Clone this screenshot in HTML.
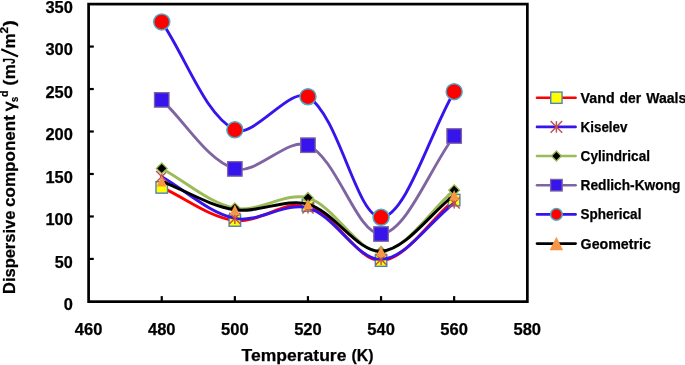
<!DOCTYPE html>
<html><head><meta charset="utf-8"><title>chart</title>
<style>
html,body{margin:0;padding:0;background:#fff;}
body{width:685px;height:365px;overflow:hidden;}
svg{display:block;will-change:transform;}
text{font-family:"Liberation Sans",sans-serif;font-weight:bold;fill:#000;stroke:#000;stroke-width:0.25px;}
</style></head><body>
<svg width="685" height="365" viewBox="0 0 685 365">
<rect x="0" y="0" width="685" height="365" fill="#ffffff"/>

<rect x="88.60" y="4.10" width="438.75" height="297.55" fill="none" stroke="#000" stroke-width="2.7"/>
<line x1="88.60" y1="258.93" x2="93.80" y2="258.93" stroke="#000" stroke-width="2.2"/>
<line x1="88.60" y1="216.46" x2="93.80" y2="216.46" stroke="#000" stroke-width="2.2"/>
<line x1="88.60" y1="173.99" x2="93.80" y2="173.99" stroke="#000" stroke-width="2.2"/>
<line x1="88.60" y1="131.51" x2="93.80" y2="131.51" stroke="#000" stroke-width="2.2"/>
<line x1="88.60" y1="89.04" x2="93.80" y2="89.04" stroke="#000" stroke-width="2.2"/>
<line x1="88.60" y1="46.57" x2="93.80" y2="46.57" stroke="#000" stroke-width="2.2"/>
<line x1="161.75" y1="301.40" x2="161.75" y2="296.10" stroke="#000" stroke-width="2.2"/>
<line x1="234.85" y1="301.40" x2="234.85" y2="296.10" stroke="#000" stroke-width="2.2"/>
<line x1="307.95" y1="301.40" x2="307.95" y2="296.10" stroke="#000" stroke-width="2.2"/>
<line x1="381.05" y1="301.40" x2="381.05" y2="296.10" stroke="#000" stroke-width="2.2"/>
<line x1="454.15" y1="301.40" x2="454.15" y2="296.10" stroke="#000" stroke-width="2.2"/>
<text x="63.70" y="310.25" font-size="16.1" textLength="9.1" lengthAdjust="spacingAndGlyphs">0</text>
<text x="54.80" y="267.78" font-size="16.1" textLength="18.0" lengthAdjust="spacingAndGlyphs">50</text>
<text x="45.40" y="225.31" font-size="16.1" textLength="27.4" lengthAdjust="spacingAndGlyphs">100</text>
<text x="45.40" y="182.84" font-size="16.1" textLength="27.4" lengthAdjust="spacingAndGlyphs">150</text>
<text x="45.40" y="140.36" font-size="16.1" textLength="27.4" lengthAdjust="spacingAndGlyphs">200</text>
<text x="45.40" y="97.89" font-size="16.1" textLength="27.4" lengthAdjust="spacingAndGlyphs">250</text>
<text x="45.40" y="55.42" font-size="16.1" textLength="27.4" lengthAdjust="spacingAndGlyphs">300</text>
<text x="45.40" y="12.95" font-size="16.1" textLength="27.4" lengthAdjust="spacingAndGlyphs">350</text>
<text x="74.85" y="335" font-size="16.3" textLength="27.6" lengthAdjust="spacingAndGlyphs">460</text>
<text x="147.95" y="335" font-size="16.3" textLength="27.6" lengthAdjust="spacingAndGlyphs">480</text>
<text x="221.05" y="335" font-size="16.3" textLength="27.6" lengthAdjust="spacingAndGlyphs">500</text>
<text x="294.15" y="335" font-size="16.3" textLength="27.6" lengthAdjust="spacingAndGlyphs">520</text>
<text x="367.25" y="335" font-size="16.3" textLength="27.6" lengthAdjust="spacingAndGlyphs">540</text>
<text x="440.35" y="335" font-size="16.3" textLength="27.6" lengthAdjust="spacingAndGlyphs">560</text>
<text x="513.45" y="335" font-size="16.3" textLength="27.6" lengthAdjust="spacingAndGlyphs">580</text>
<text x="241.60" y="360.50" font-size="16.3" textLength="104.80" lengthAdjust="spacingAndGlyphs">Temperature</text>
<text x="351.50" y="360.50" font-size="16.3" textLength="22.00" lengthAdjust="spacingAndGlyphs">(K)</text>
<g transform="translate(14.8,293.4) rotate(-90)">
<text x="-0.60" y="0.00" font-size="16.5" textLength="83.30" lengthAdjust="spacingAndGlyphs">Dispersive</text>
<text x="86.50" y="0.00" font-size="16.5" textLength="91.80" lengthAdjust="spacingAndGlyphs">component</text>
<text x="182.40" y="0.00" font-size="16.5" textLength="9.20" lengthAdjust="spacingAndGlyphs"><tspan style="font-weight:normal;stroke-width:0.7px">γ</tspan></text>
<text x="191.50" y="3.20" font-size="10" textLength="5.20" lengthAdjust="spacingAndGlyphs">s</text>
<text x="196.30" y="-6.60" font-size="11" textLength="6.40" lengthAdjust="spacingAndGlyphs">d</text>
<text x="207.80" y="0.00" font-size="16.5" textLength="5.80" lengthAdjust="spacingAndGlyphs">(</text>
<text x="214.20" y="0.00" font-size="16.5" textLength="15.10" lengthAdjust="spacingAndGlyphs">m</text>
<text x="229.40" y="0.00" font-size="16.5" textLength="6.00" lengthAdjust="spacingAndGlyphs">J</text>
<text x="245.00" y="0.00" font-size="16.5" textLength="15.10" lengthAdjust="spacingAndGlyphs">m</text>
<text x="259.80" y="-6.40" font-size="11" textLength="6.60" lengthAdjust="spacingAndGlyphs">2</text>
<text x="266.80" y="0.00" font-size="16.5" textLength="6.20" lengthAdjust="spacingAndGlyphs">)</text>
<line x1="236.9" y1="3.2" x2="244.1" y2="-13.6" stroke="#000" stroke-width="2.1"/>
</g>
<path d="M161.75,187.40 C186.12,198.43 209.60,217.37 234.85,220.50 C258.33,223.41 286.06,199.50 307.95,205.50 C334.80,212.86 357.12,261.48 381.05,260.60 C405.85,259.68 429.78,220.27 454.15,200.10" fill="none" stroke="#ff0000" stroke-width="2.9" stroke-linecap="round"/>
<rect x="156.00" y="181.65" width="11.50" height="11.50" fill="#ffff00" stroke="#4f81bd" stroke-width="1.4"/>
<rect x="229.10" y="214.75" width="11.50" height="11.50" fill="#ffff00" stroke="#4f81bd" stroke-width="1.4"/>
<rect x="302.20" y="199.75" width="11.50" height="11.50" fill="#ffff00" stroke="#4f81bd" stroke-width="1.4"/>
<rect x="375.30" y="254.85" width="11.50" height="11.50" fill="#ffff00" stroke="#4f81bd" stroke-width="1.4"/>
<rect x="448.40" y="194.35" width="11.50" height="11.50" fill="#ffff00" stroke="#4f81bd" stroke-width="1.4"/>
<path d="M161.75,176.70 C186.12,190.60 208.90,212.88 234.85,218.40 C257.63,223.25 285.91,201.62 307.95,207.80 C334.65,215.29 357.07,260.19 381.05,259.40 C405.80,258.59 429.78,221.80 454.15,203.00" fill="none" stroke="#3615ed" stroke-width="2.9" stroke-linecap="round"/>
<g stroke="#c0504d" stroke-width="1.45" fill="none"><line x1="156.15" y1="171.10" x2="167.35" y2="182.30"/><line x1="156.15" y1="182.30" x2="167.35" y2="171.10"/><line x1="161.75" y1="171.10" x2="161.75" y2="182.30"/></g>
<g stroke="#c0504d" stroke-width="1.45" fill="none"><line x1="229.25" y1="212.80" x2="240.45" y2="224.00"/><line x1="229.25" y1="224.00" x2="240.45" y2="212.80"/><line x1="234.85" y1="212.80" x2="234.85" y2="224.00"/></g>
<g stroke="#c0504d" stroke-width="1.45" fill="none"><line x1="302.35" y1="202.20" x2="313.55" y2="213.40"/><line x1="302.35" y1="213.40" x2="313.55" y2="202.20"/><line x1="307.95" y1="202.20" x2="307.95" y2="213.40"/></g>
<g stroke="#c0504d" stroke-width="1.45" fill="none"><line x1="375.45" y1="253.80" x2="386.65" y2="265.00"/><line x1="375.45" y1="265.00" x2="386.65" y2="253.80"/><line x1="381.05" y1="253.80" x2="381.05" y2="265.00"/></g>
<g stroke="#c0504d" stroke-width="1.45" fill="none"><line x1="448.55" y1="197.40" x2="459.75" y2="208.60"/><line x1="448.55" y1="208.60" x2="459.75" y2="197.40"/><line x1="454.15" y1="197.40" x2="454.15" y2="208.60"/></g>
<path d="M161.75,168.40 C186.12,181.70 209.02,203.09 234.85,208.30 C257.75,212.92 286.09,191.41 307.95,197.90 C334.82,205.88 357.31,252.95 381.05,251.70 C406.04,250.38 429.78,210.70 454.15,190.20" fill="none" stroke="#9bbb59" stroke-width="2.9" stroke-linecap="round"/>
<path d="M161.75,163.00 L167.15,168.40 L161.75,173.80 L156.35,168.40 Z" fill="#000" stroke="#9bbb59" stroke-width="1.3"/>
<path d="M234.85,202.90 L240.25,208.30 L234.85,213.70 L229.45,208.30 Z" fill="#000" stroke="#9bbb59" stroke-width="1.3"/>
<path d="M307.95,192.50 L313.35,197.90 L307.95,203.30 L302.55,197.90 Z" fill="#000" stroke="#9bbb59" stroke-width="1.3"/>
<path d="M381.05,246.30 L386.45,251.70 L381.05,257.10 L375.65,251.70 Z" fill="#000" stroke="#9bbb59" stroke-width="1.3"/>
<path d="M454.15,184.80 L459.55,190.20 L454.15,195.60 L448.75,190.20 Z" fill="#000" stroke="#9bbb59" stroke-width="1.3"/>
<path d="M161.75,99.90 C186.12,122.90 207.23,160.34 234.85,168.90 C255.96,175.44 288.43,136.51 307.95,145.20 C337.16,158.21 357.43,235.49 381.05,234.00 C406.16,232.42 429.78,168.67 454.15,136.00" fill="none" stroke="#8064a2" stroke-width="2.9" stroke-linecap="round"/>
<rect x="154.50" y="92.65" width="14.50" height="14.50" fill="#3615ed" stroke="#8064a2" stroke-width="1.3"/>
<rect x="227.60" y="161.65" width="14.50" height="14.50" fill="#3615ed" stroke="#8064a2" stroke-width="1.3"/>
<rect x="300.70" y="137.95" width="14.50" height="14.50" fill="#3615ed" stroke="#8064a2" stroke-width="1.3"/>
<rect x="373.80" y="226.75" width="14.50" height="14.50" fill="#3615ed" stroke="#8064a2" stroke-width="1.3"/>
<rect x="446.90" y="128.75" width="14.50" height="14.50" fill="#3615ed" stroke="#8064a2" stroke-width="1.3"/>
<path d="M161.75,21.90 C186.12,57.87 204.69,114.37 234.85,129.80 C253.42,139.30 290.28,86.12 307.95,96.70 C339.01,115.29 357.05,218.13 381.05,217.30 C405.79,216.45 429.78,133.53 454.15,91.65" fill="none" stroke="#3615ed" stroke-width="2.9" stroke-linecap="round"/>
<circle cx="161.75" cy="21.90" r="8.00" fill="#ff0000" stroke="#4bacc6" stroke-width="1.5"/>
<circle cx="234.85" cy="129.80" r="8.00" fill="#ff0000" stroke="#4bacc6" stroke-width="1.5"/>
<circle cx="307.95" cy="96.70" r="8.00" fill="#ff0000" stroke="#4bacc6" stroke-width="1.5"/>
<circle cx="381.05" cy="217.30" r="8.00" fill="#ff0000" stroke="#4bacc6" stroke-width="1.5"/>
<circle cx="454.15" cy="91.65" r="8.00" fill="#ff0000" stroke="#4bacc6" stroke-width="1.5"/>
<path d="M161.75,181.30 C186.12,190.80 209.66,205.87 234.85,209.80 C258.39,213.47 285.66,197.79 307.95,204.10 C334.39,211.59 357.39,252.66 381.05,251.20 C406.12,249.66 429.78,213.80 454.15,195.10" fill="none" stroke="#000000" stroke-width="2.9" stroke-linecap="round"/>
<path d="M161.75,176.10 L166.75,186.50 L156.75,186.50 Z" fill="#f79646"/>
<path d="M234.85,204.60 L239.85,215.00 L229.85,215.00 Z" fill="#f79646"/>
<path d="M307.95,198.90 L312.95,209.30 L302.95,209.30 Z" fill="#f79646"/>
<path d="M381.05,246.00 L386.05,256.40 L376.05,256.40 Z" fill="#f79646"/>
<path d="M454.15,189.90 L459.15,200.30 L449.15,200.30 Z" fill="#f79646"/>
<line x1="537.0" y1="97.70" x2="575.6" y2="97.70" stroke="#ff0000" stroke-width="2.6" stroke-linecap="round"/>
<rect x="550.75" y="92.05" width="11.30" height="11.30" fill="#ffff00" stroke="#4f81bd" stroke-width="1.4"/>
<text x="580.60" y="102.70" font-size="14.4" textLength="34.00" lengthAdjust="spacingAndGlyphs">Vand</text>
<text x="619.60" y="102.70" font-size="14.4" textLength="21.60" lengthAdjust="spacingAndGlyphs">der</text>
<text x="646.20" y="102.70" font-size="14.4" textLength="40.00" lengthAdjust="spacingAndGlyphs">Waals</text>
<line x1="537.0" y1="126.90" x2="575.6" y2="126.90" stroke="#3615ed" stroke-width="2.6" stroke-linecap="round"/>
<g stroke="#c0504d" stroke-width="1.45" fill="none"><line x1="550.60" y1="121.10" x2="562.20" y2="132.70"/><line x1="550.60" y1="132.70" x2="562.20" y2="121.10"/><line x1="556.40" y1="121.10" x2="556.40" y2="132.70"/></g>
<text x="580.60" y="131.90" font-size="14.4" textLength="46.80" lengthAdjust="spacingAndGlyphs">Kiselev</text>
<line x1="537.0" y1="156.00" x2="575.6" y2="156.00" stroke="#9bbb59" stroke-width="2.6" stroke-linecap="round"/>
<path d="M556.40,151.00 L561.40,156.00 L556.40,161.00 L551.40,156.00 Z" fill="#000" stroke="#9bbb59" stroke-width="1.3"/>
<text x="580.60" y="161.00" font-size="14.4" textLength="69.40" lengthAdjust="spacingAndGlyphs">Cylindrical</text>
<line x1="537.0" y1="185.20" x2="575.6" y2="185.20" stroke="#8064a2" stroke-width="2.6" stroke-linecap="round"/>
<rect x="550.60" y="179.40" width="11.60" height="11.60" fill="#3615ed" stroke="#8064a2" stroke-width="1.3"/>
<text x="580.60" y="190.20" font-size="14.4" textLength="99.80" lengthAdjust="spacingAndGlyphs">Redlich-Kwong</text>
<line x1="537.0" y1="214.40" x2="575.6" y2="214.40" stroke="#3615ed" stroke-width="2.6" stroke-linecap="round"/>
<circle cx="556.40" cy="214.40" r="5.80" fill="#ff0000" stroke="#4bacc6" stroke-width="1.5"/>
<text x="580.60" y="219.40" font-size="14.4" textLength="60.80" lengthAdjust="spacingAndGlyphs">Spherical</text>
<line x1="537.0" y1="243.60" x2="575.6" y2="243.60" stroke="#000000" stroke-width="2.6" stroke-linecap="round"/>
<path d="M556.40,236.85 L563.15,250.35 L549.65,250.35 Z" fill="#f79646"/>
<text x="580.60" y="248.60" font-size="14.4" textLength="70.20" lengthAdjust="spacingAndGlyphs">Geometric</text>
</svg></body></html>
